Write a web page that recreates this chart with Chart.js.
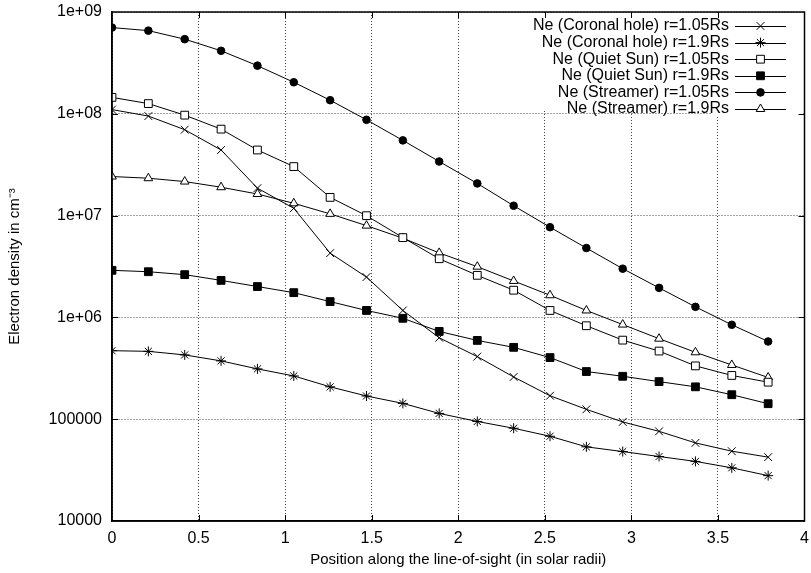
<!DOCTYPE html>
<html>
<head>
<meta charset="utf-8">
<title>Electron density along the line-of-sight</title>
<script src="https://cdn.jsdelivr.net/npm/chart.js@4/dist/chart.umd.min.js"></script>
<style>
  html, body { margin: 0; padding: 0; background: #fff; }
  #wrap { width: 811px; height: 573px; }
</style>
</head>
<body>
<div id="wrap"><canvas id="densityChart" width="811" height="573"></canvas></div>
<script>
// position along the line-of-sight (solar radii)
const positions = [0, 0.21, 0.42, 0.63, 0.84, 1.05, 1.26, 1.47, 1.68, 1.89, 2.11, 2.32, 2.53, 2.74, 2.95, 3.16, 3.37, 3.58, 3.79];

// electron densities (cm^-3)
const coronalHole105 = [1.10e8, 9.5e7, 6.98e7, 4.41e7, 1.86e7, 1.18e7, 4.28e6, 2.49e6, 1.17e6, 6.31e5, 4.12e5, 2.60e5, 1.70e5, 1.25e5, 9.4e4, 7.6e4, 5.85e4, 4.85e4, 4.24e4];
const coronalHole19 = [4.71e5, 4.64e5, 4.28e5, 3.74e5, 3.12e5, 2.66e5, 2.08e5, 1.69e5, 1.43e5, 1.14e5, 9.5e4, 8.15e4, 6.8e4, 5.35e4, 4.81e4, 4.30e4, 3.85e4, 3.33e4, 2.79e4];
const quietSun105 = [1.45e8, 1.26e8, 9.7e7, 7.07e7, 4.41e7, 3.03e7, 1.51e7, 9.98e6, 6.08e6, 3.77e6, 2.59e6, 1.85e6, 1.17e6, 8.28e5, 5.98e5, 4.67e5, 3.34e5, 2.69e5, 2.31e5];
const quietSun19 = [2.90e6, 2.81e6, 2.63e6, 2.31e6, 2.01e6, 1.75e6, 1.43e6, 1.17e6, 9.8e5, 7.28e5, 5.94e5, 5.08e5, 4.03e5, 2.94e5, 2.64e5, 2.34e5, 2.08e5, 1.74e5, 1.42e5];
const streamer105 = [7.03e8, 6.56e8, 5.41e8, 4.16e8, 2.97e8, 2.04e8, 1.36e8, 8.73e7, 5.48e7, 3.40e7, 2.07e7, 1.25e7, 7.69e6, 4.80e6, 3.01e6, 1.95e6, 1.27e6, 8.46e5, 5.80e5];
const streamer19 = [2.42e7, 2.33e7, 2.16e7, 1.90e7, 1.63e7, 1.32e7, 1.04e7, 7.97e6, 6.0e6, 4.30e6, 3.15e6, 2.28e6, 1.65e6, 1.17e6, 8.5e5, 6.18e5, 4.54e5, 3.41e5, 2.57e5];

const seriesLabels = [
  'Ne (Coronal hole) r=1.05Rs',
  'Ne (Coronal hole) r=1.9Rs',
  'Ne (Quiet Sun) r=1.05Rs',
  'Ne (Quiet Sun) r=1.9Rs',
  'Ne (Streamer) r=1.05Rs',
  'Ne (Streamer) r=1.9Rs'
];

const yTicks = [1e4, 1e5, 1e6, 1e7, 1e8, 1e9];
const xTicks = [0, 0.5, 1, 1.5, 2, 2.5, 3, 3.5, 4];

const FONT = '"Liberation Sans", Arial, Helvetica, sans-serif';

// marker styles, gnuplot-like
const markers = [
  { pointStyle: 'crossRot', radius: 5.5, fill: '#000' },
  { pointStyle: 'star', radius: 5, fill: '#000' },
  { pointStyle: 'rect', radius: 5.5, fill: '#fff' },
  { pointStyle: 'rect', radius: 5.5, fill: '#000' },
  { pointStyle: 'circle', radius: 3.8, fill: '#000' },
  { pointStyle: 'triangle', radius: 5, fill: '#fff' }
];

const allSeries = [coronalHole105, coronalHole19, quietSun105, quietSun19, streamer105, streamer19];

function toPoints(values) {
  return values.map((v, i) => ({ x: positions[i], y: v }));
}

const datasets = allSeries.map((vals, i) => ({
  label: seriesLabels[i],
  data: toPoints(vals),
  borderColor: '#000',
  borderWidth: 1,
  pointStyle: markers[i].pointStyle,
  pointRadius: markers[i].radius,
  pointHoverRadius: markers[i].radius,
  pointBackgroundColor: markers[i].fill,
  pointBorderColor: '#000',
  pointBorderWidth: 1,
  showLine: true,
  fill: false,
  tension: 0
}));

// blank out the grid behind the key, like gnuplot does
const keyBackground = {
  id: 'keyBackground',
  beforeDatasetsDraw(chart) {
    const ctx = chart.ctx;
    ctx.save();
    ctx.fillStyle = '#fff';
    ctx.fillRect(538, 14, 265, 97);
    ctx.fillRect(711, 111, 92, 6);
    ctx.restore();
  }
};

// full frame + inward tick marks on all four sides
const frameTicks = {
  id: 'frameTicks',
  afterDatasetsDraw(chart) {
    const { ctx, chartArea: a, scales } = chart;
    const len = 6;
    ctx.save();
    ctx.strokeStyle = '#000';
    ctx.lineWidth = 1;
    ctx.beginPath();
    xTicks.slice(1, -1).forEach(v => {
      const px = Math.round(scales.x.getPixelForValue(v)) + 0.5;
      ctx.moveTo(px, a.bottom); ctx.lineTo(px, a.bottom - len);
      ctx.moveTo(px, a.top); ctx.lineTo(px, a.top + len);
    });
    yTicks.slice(1, -1).forEach(v => {
      const py = Math.round(scales.y.getPixelForValue(v)) + 0.5;
      ctx.moveTo(a.left, py); ctx.lineTo(a.left + len, py);
      ctx.moveTo(a.right, py); ctx.lineTo(a.right - len, py);
    });
    ctx.stroke();
    ctx.lineWidth = 1.5;
    ctx.strokeRect(a.left, a.top, a.right - a.left, a.bottom - a.top);
    ctx.restore();
  }
};

// gnuplot style key: text right aligned, sample line with marker
const gnuplotKey = {
  id: 'gnuplotKey',
  afterDraw(chart) {
    const ctx = chart.ctx;
    const textRight = 729;
    const lineL = 735, lineR = 786;
    ctx.save();
    ctx.font = '16px ' + FONT;
    ctx.textAlign = 'right';
    ctx.textBaseline = 'middle';
    seriesLabels.forEach((lab, i) => {
      const y = 26 + i * 16.6;
      ctx.fillStyle = '#000';
      ctx.fillText(lab, textRight, y);
      ctx.strokeStyle = '#000';
      ctx.lineWidth = 1;
      ctx.beginPath();
      ctx.moveTo(lineL, Math.round(y) + 0.5);
      ctx.lineTo(lineR, Math.round(y) + 0.5);
      ctx.stroke();
      const m = markers[i];
      ctx.fillStyle = m.fill;
      ctx.strokeStyle = '#000';
      ctx.lineWidth = 1;
      if (Chart.helpers && Chart.helpers.drawPoint) {
        Chart.helpers.drawPoint(ctx, { pointStyle: m.pointStyle, radius: m.radius, borderWidth: 1, rotation: 0 }, (lineL + lineR) / 2, y);
      } else {
        ctx.beginPath();
        ctx.arc((lineL + lineR) / 2, y, m.radius * 0.7, 0, Math.PI * 2);
        ctx.fill(); ctx.stroke();
      }
    });
    ctx.restore();
  }
};

Chart.defaults.color = '#000';
Chart.defaults.font.family = FONT;
Chart.defaults.font.size = 16;

const gridStyle = { color: '#444', lineWidth: 1, drawTicks: false };
const borderStyle = { color: '#000', width: 1.5, dash: [1, 2] };

new Chart(document.getElementById('densityChart'), {
  type: 'scatter',
  data: { datasets: datasets },
  plugins: [keyBackground, frameTicks, gnuplotKey],
  options: {
    responsive: false,
    animation: false,
    devicePixelRatio: 1,
    layout: { padding: { top: 12, right: 6, left: 0, bottom: 0 } },
    plugins: {
      legend: { display: false },
      tooltip: { enabled: false }
    },
    scales: {
      x: {
        type: 'linear',
        min: 0,
        max: 4,
        afterFit(scale) {
          scale.height = 52;
          scale.paddingLeft = 0;
          scale.paddingRight = 0;
        },
        afterBuildTicks(scale) { scale.ticks = xTicks.map(v => ({ value: v })); },
        ticks: {
          padding: 8,
          maxRotation: 0,
          callback: v => String(v)
        },
        grid: gridStyle,
        border: borderStyle,
        title: {
          display: true,
          text: 'Position along the line-of-sight (in solar radii)',
          font: { size: 15 },
          padding: { top: 0, bottom: 4 }
        }
      },
      y: {
        type: 'logarithmic',
        min: 1e4,
        max: 1e9,
        afterFit(scale) {
          scale.width = 112;
          scale.paddingTop = 0;
          scale.paddingBottom = 0;
        },
        afterBuildTicks(scale) { scale.ticks = yTicks.map(v => ({ value: v })); },
        ticks: {
          padding: 10,
          callback: v => v >= 1e6 ? '1e+0' + Math.round(Math.log10(v)) : String(v)
        },
        grid: gridStyle,
        border: borderStyle,
        title: {
          display: true,
          text: 'Electron density in cm\u207B\u00B3',
          font: { size: 15 },
          padding: { top: 6, bottom: 0 }
        }
      }
    }
  }
});
</script>
</body>
</html>
